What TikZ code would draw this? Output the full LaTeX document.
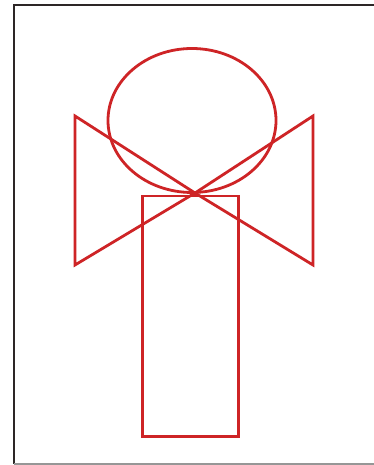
\documentclass[tikz,border=0pt]{standalone}
\definecolor{shapered}{RGB}{206,36,38}
\definecolor{framedark}{RGB}{45,38,38}
\definecolor{framegray}{RGB}{150,150,150}
\begin{document}
\begin{tikzpicture}[x=1pt,y=-1pt,
  shape line/.style={draw=shapered,line width=2.8pt,line join=miter},
  frame line/.style={line width=2pt}]
\useasboundingbox (0,0) rectangle (374,465);
\fill[white] (0,0) rectangle (374,465);
% frame
\draw[frame line,framedark] (374,5.5) -- (13.5,5.5) -- (13.5,463.5);
\draw[frame line,framegray] (13.5,463.8) -- (374,463.8);
% named points
\coordinate (apex) at (195,193);
\coordinate (ltop) at (75,116);
\coordinate (lbot) at (75,265);
\coordinate (rtop) at (313,116);
\coordinate (rbot) at (313,265);
\coordinate (ec) at (192,120.5);
% ellipse
\draw[shape line] (ec) ellipse [x radius=84, y radius=72];
% rectangle
\draw[shape line] (142.5,196) rectangle (238.5,436.5);
% bow-tie triangles
\draw[shape line] (apex) -- (ltop) -- (lbot) -- cycle;
\draw[shape line] (apex) -- (rtop) -- (rbot) -- cycle;
\end{tikzpicture}
\end{document}
